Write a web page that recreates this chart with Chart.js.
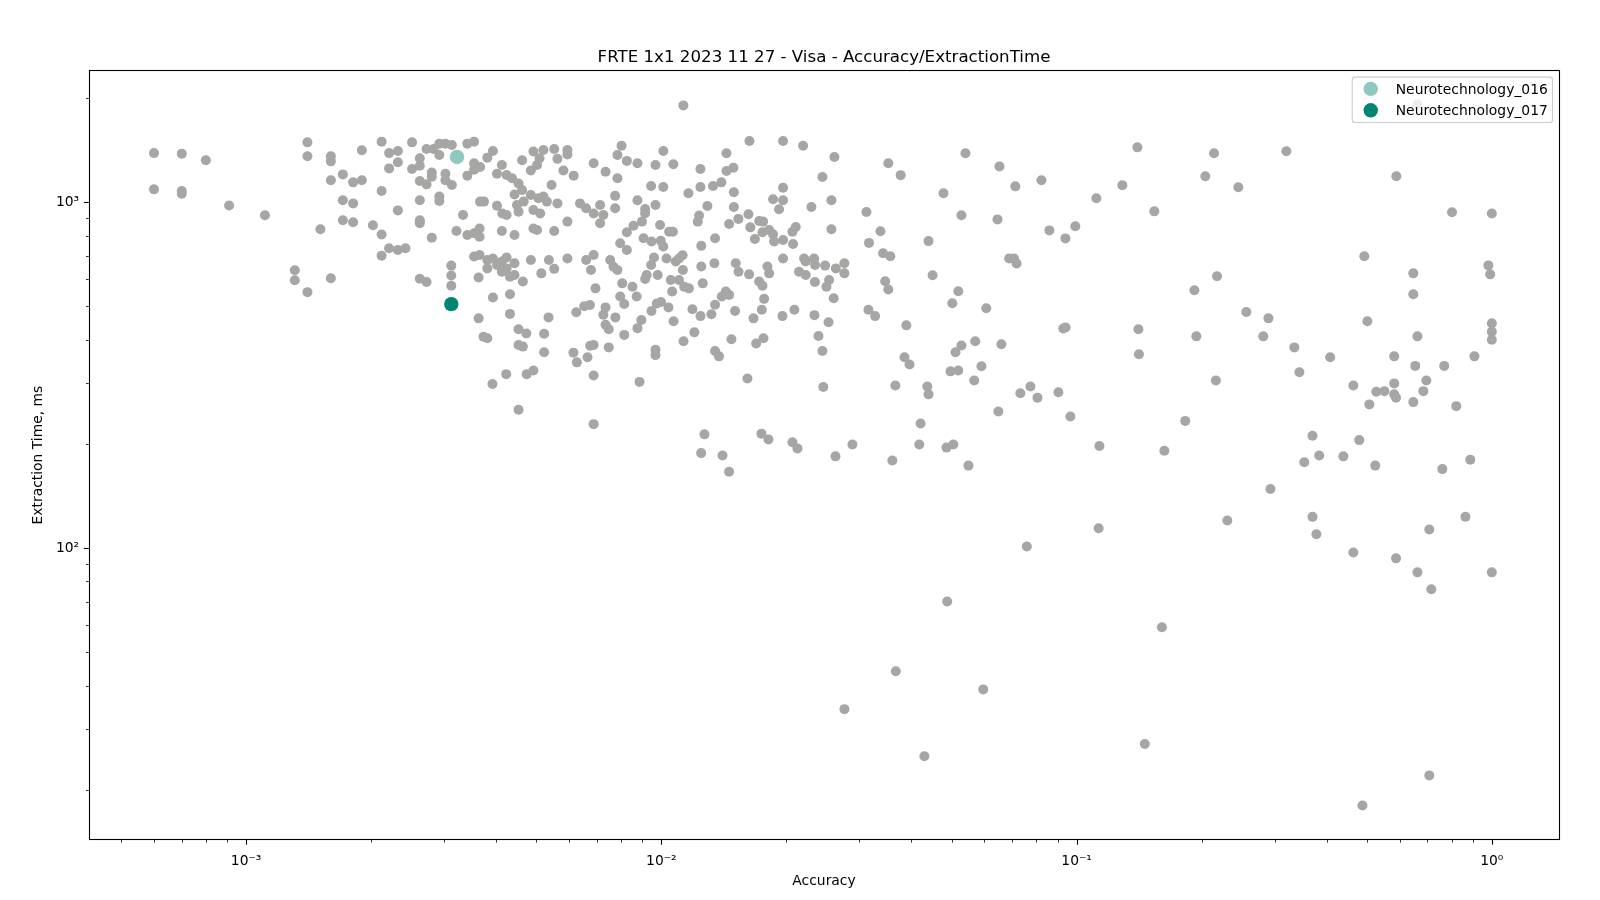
<!DOCTYPE html>
<html><head><meta charset="utf-8">
<script src="https://cdn.jsdelivr.net/npm/chart.js@4.4.0/dist/chart.umd.min.js"></script>
<style>html,body{margin:0;padding:0;background:#fff;}#wrap{width:1600px;height:900px;}</style>
</head><body><div id="wrap"><canvas id="c" width="1600" height="900"></canvas></div>
<script>
const chartTitle = 'FRTE 1x1 2023 11 27 - Visa - Accuracy/ExtractionTime';
const xAxisTitle = 'Accuracy';
const yAxisTitle = 'Extraction Time, ms';
const seriesNames = ['Neurotechnology_016', 'Neurotechnology_017'];
const seriesColors = ['#8dc9bf', '#008673'];
const nt016Accuracy = [0.00322];
const nt016Time = [1350];
const nt017Accuracy = [0.00312];
const nt017Time = [507];
const xTickValues = [0.001, 0.01, 0.1, 1];
const xTickLabels = ['10\u207B\u00B3', '10\u207B\u00B2', '10\u207B\u00B9', '10\u2070'];
const yTickValues = [100, 1000];
const yTickLabels = ['10\u00B2', '10\u00B3'];
const xRange = [4.18e-4, 1.453];
const yRange = [14.33, 2402];
// other algorithms: [accuracy, extraction time ms]
const othersPoints = [
[0.0006,1385],[0.0007,1380],[0.0008,1320],[0.0006,1088],[0.0007,1076],[0.0007,1057],[0.00091,977],[0.00111,916],[0.001405,1488],[0.001405,1356],[0.0016,1356],[0.0016,1311],[0.0019,1411],[0.00171,1202],[0.0016,1156],[0.00181,1140],[0.0019,1156],[0.00171,1012],[0.00181,991],[0.00171,886],[0.00181,874],[0.00202,857],[0.00151,834],[0.00131,635],[0.00131,594],[0.001405,549],[0.0016,602],
[0.00212,1495],[0.00251,1488],[0.00221,1385],[0.00232,1404],[0.00232,1303],[0.00221,1251],[0.00272,1423],[0.00283,1423],[0.00292,1475],[0.00302,1475],[0.00313,1462],[0.00292,1368],[0.00341,1475],[0.00354,1495],[0.00393,1404],[0.00381,1344],[0.00262,1338],[0.00251,1246],[0.00262,1274],[0.0028,1218],[0.0028,1184],[0.00302,1207],[0.00302,1156],[0.00313,1120],[0.00262,1151],[0.00272,1125],[0.00341,1192],[0.00354,1294],[0.00354,1240],[0.00366,1262],[0.00402,1207],[0.00413,1280],[0.00424,1197],[0.00437,1171],[0.00453,1132],[0.00462,1083],[0.00462,1320],[0.00492,1400],[0.00509,1338],[0.0052,1414],[0.00552,1423],[0.00594,1414],[0.00594,1373],[0.00562,1333],[0.00502,1280],[0.00485,1234],[0.00544,1120],[0.00443,1052],[0.00485,1048],[0.00466,1003],[0.00506,1025],[0.0052,1037],[0.0053,1003],[0.00562,991],[0.00449,981],[0.00492,948],[0.00511,927],[0.00453,938],[0.00402,976],[0.00414,927],[0.00424,917],[0.00366,1003],[0.00374,1003],[0.00292,1037],[0.00292,1007],[0.00262,1012],[0.00232,946],[0.00262,886],[0.00262,868],[0.00333,917],[0.00212,1076],[0.00581,1234],[0.00615,1192],[0.00687,1294],[0.00734,1224],[0.00784,1171],[0.00784,1368],[0.00802,1454],[0.00826,1315],[0.00637,991],[0.00659,959],[0.00687,927],[0.00712,981],[0.00725,917],[0.00712,868],[0.00774,1042],[0.00774,959],[0.00594,878],[0.00552,825],[0.00492,839],[0.00502,830],[0.00443,803],[0.00413,825],[0.00341,803],[0.00354,812],[0.00365,839],[0.00365,794],[0.00321,825],[0.0028,789],[0.00212,806],[0.00221,735],[0.00232,727],[0.00242,735],[0.00212,700],[0.00354,696],[0.00365,703],[0.00381,680],[0.00393,687],[0.00424,691],[0.00443,665],[0.00485,680],[0.00536,680],[0.00594,687],[0.00659,680],[0.00687,703],[0.00753,680],[0.00767,650],[0.00826,818],[0.00796,760],[0.00826,727],[0.00381,643],[0.00402,658],[0.00413,673],[0.00413,629],[0.00424,643],[0.00432,608],[0.00443,615],[0.00464,589],[0.00514,622],[0.00552,641],[0.00363,605],[0.00677,636],[0.00784,636],[0.00805,582],[0.00262,600],[0.00272,587],[0.00312,655],[0.00312,613],[0.00312,573],[0.00393,530],[0.00432,541],[0.00796,533],[0.00694,563],
[0.00363,461],[0.00432,475],[0.00535,464],[0.00373,408],[0.00381,404],[0.00453,429],[0.00473,417],[0.00522,416],[0.00453,386],[0.00464,382],[0.00522,368],[0.00423,318],[0.00474,318],[0.00492,326],[0.00392,298],[0.00453,251],[0.00624,480],[0.00652,500],[0.00673,504],[0.00734,496],[0.00725,472],[0.00775,464],[0.00814,507],[0.00734,442],[0.00747,429],[0.00814,413],[0.00614,367],[0.00626,344],[0.00664,356],[0.00674,384],[0.00687,386],[0.00747,380],[0.00687,315],[0.00687,228],
[0.00975,509],[0.00998,514],[0.00947,484],[0.0104,496],[0.00895,456],[0.00876,432],[0.0107,452],[0.01188,490],[0.01242,468],[0.0132,474],[0.01347,505],[0.01505,484],[0.01667,461],[0.01745,488],[0.01957,468],[0.02091,488],[0.02337,471],[0.02527,449],[0.03153,488],[0.03272,468],[0.01201,420],[0.01131,396],[0.00968,374],[0.00968,361],[0.01347,371],[0.01377,358],[0.01475,401],[0.01692,390],[0.01762,404],[0.0239,410],[0.02443,371],[0.00886,302],[0.01612,309],[0.02455,292],[0.0127,213],[0.01247,188],[0.01404,185],[0.01456,166],[0.01742,214],[0.01811,206],[0.02069,202],[0.02127,194],[0.02626,184],[0.02885,199],
[0.0113,1903],[0.0163,1502],[0.01964,1502],[0.02195,1454],[0.02611,1349],[0.01011,1404],[0.01435,1384],[0.00876,1295],[0.00968,1280],[0.01069,1286],[0.01242,1246],[0.01435,1229],[0.01491,1257],[0.02443,1182],[0.00945,1113],[0.01011,1105],[0.01242,1105],[0.01332,1113],[0.01395,1140],[0.01162,1060],[0.01495,1067],[0.01964,1100],[0.01964,1012],[0.01858,1019],[0.01921,953],[0.02298,967],[0.02568,1012],[0.03118,936],[0.00876,1012],[0.00968,981],[0.00914,955],[0.00914,928],[0.00898,878],[0.00857,854],[0.00993,858],[0.01044,821],[0.01066,821],[0.00906,786],[0.00947,769],[0.00997,773],[0.01011,744],[0.01248,747],[0.01347,786],[0.01291,974],[0.01233,914],[0.01224,878],[0.01456,864],[0.01533,894],[0.01621,922],[0.01495,967],[0.01638,845],[0.0172,881],[0.01758,878],[0.0168,782],[0.01752,818],[0.01818,830],[0.01858,807],[0.01869,769],[0.01964,777],[0.02076,756],[0.02069,821],[0.02107,847],[0.02568,834],[0.03163,762],[0.01964,687],[0.02207,687],[0.02227,673],[0.02333,687],[0.02345,658],[0.0248,655],[0.02632,643],[0.02759,665],[0.02759,622],[0.02146,629],[0.02227,615],[0.02343,587],[0.02535,595],[0.02498,569],[0.026,527],[0.01818,622],[0.01801,651],[0.01627,618],[0.0172,589],[0.01752,573],[0.01511,665],[0.01534,629],[0.01342,665],[0.01248,651],[0.01258,582],[0.01125,702],[0.01103,687],[0.01083,673],[0.01127,636],[0.01029,687],[0.0096,691],[0.00945,658],[0.0098,615],[0.00922,615],[0.00914,599],[0.01054,595],[0.01103,595],[0.01135,569],[0.01165,563],[0.01062,551],[0.00852,569],[0.00872,533],[0.0143,551],[0.01456,539],[0.01398,533],[0.01768,525],
[0.0352,1294],[0.0377,1196],[0.054,1384],[0.0652,1268],[0.0712,1110],[0.0823,1156],[0.0478,1060],[0.0528,916],[0.0645,891],[0.1116,1025],[0.1289,1118],[0.1401,1439],[0.1539,940],[0.2042,1187],[0.2143,1384],[0.0337,823],[0.044,771],[0.0342,711],[0.0356,697],[0.0346,590],[0.0352,559],[0.045,614],[0.0519,552],[0.0502,510],[0.0606,493],[0.0389,440],[0.0688,687],[0.0707,687],[0.0717,664],[0.086,828],[0.094,785],[0.0993,851],[0.0929,431],[0.0941,434],[0.1409,429],[0.1413,363],[0.1922,556],[0.1943,409],[0.2179,610],[0.2165,305],[0.0528,385],[0.0511,368],[0.057,396],[0.0659,388],[0.0385,356],[0.0396,339],[0.0497,324],[0.0519,326],[0.059,335],[0.0567,305],[0.0366,295],[0.0437,293],[0.044,278],[0.0732,280],[0.0774,293],[0.0805,272],[0.0904,282],[0.0648,248],[0.0966,240],[0.1827,233],[0.0421,229],[0.0418,199],[0.0486,195],[0.0505,199],[0.1135,197],[0.1627,191],[0.036,179],[0.0549,173],
[0.32,1402],[0.2452,1104],[0.589,1187],[0.802,934],[1.0,927],[0.493,697],[0.647,622],[0.647,541],[0.981,656],[0.991,618],[0.2563,481],[0.2897,461],[0.2816,409],[0.5015,452],[0.662,409],[1.0,446],[1.0,422],[1.0,400],[0.3345,380],[0.408,356],[0.582,358],[0.344,322],[0.654,336],[0.768,336],[0.908,358],[0.464,295],[0.582,299],[0.6955,305],[0.527,283],[0.551,284],[0.582,278],[0.588,272],[0.684,284],[0.647,264],[0.507,260],[0.821,257],[0.37,211],[0.4795,205],[0.3535,177],[0.384,185],[0.439,184],[0.524,173],[0.76,169],[0.8875,180],[0.293,148],[0.662,1917],
[0.2307,120],[0.37,123],[0.378,109.5],[0.464,97],[0.588,93.3],[0.662,85],[0.707,113],[0.864,123],[1.0,85],[0.715,76],[0.707,22],[0.488,18],
[0.113,114],[0.0759,101],[0.0488,70],[0.1605,59],[0.0367,44],[0.0596,39],[0.0276,34.2],[0.043,25],[0.146,27.1]
];

const FONT = "'DejaVu Sans', sans-serif";
Chart.defaults.font.family = FONT;
Chart.defaults.color = '#000';

function logTickList(min, max) {
  const out = [];
  for (let e = Math.floor(Math.log10(min)); e <= Math.ceil(Math.log10(max)); e++) {
    for (let k = 1; k <= 9; k++) {
      const v = k * Math.pow(10, e);
      if (v >= min * 0.9999 && v <= max * 1.0001) out.push({ v, major: k === 1 });
    }
  }
  return out;
}

const framePlugin = {
  id: 'frame',
  afterDatasetsDraw(chart) {
    const { ctx, chartArea: a, scales } = chart;
    ctx.save();
    ctx.strokeStyle = '#000';
    for (const t of logTickList(xRange[0], xRange[1])) {
      const px = Math.round(scales.x.getPixelForValue(t.v)) + 0.5;
      ctx.lineWidth = t.major ? 1.1 : 0.8;
      const len = t.major ? 4.9 : 2.8;
      ctx.beginPath(); ctx.moveTo(px, a.bottom); ctx.lineTo(px, a.bottom + len); ctx.stroke();
    }
    for (const t of logTickList(yRange[0], yRange[1])) {
      const py = Math.round(scales.y.getPixelForValue(t.v)) + 0.5;
      ctx.lineWidth = t.major ? 1.1 : 0.8;
      const len = t.major ? 4.9 : 2.8;
      ctx.beginPath(); ctx.moveTo(a.left - len, py); ctx.lineTo(a.left, py); ctx.stroke();
    }
    ctx.lineWidth = 1.1;
    ctx.strokeRect(Math.round(a.left) + 0.5, Math.round(a.top) + 0.5, Math.round(a.right - a.left), Math.round(a.bottom - a.top));
    ctx.restore();
  }
};

const legendPlugin = {
  id: 'innerLegend',
  afterDraw(chart) {
    const { ctx, chartArea: a } = chart;
    ctx.save();
    ctx.font = '13.89px ' + FONT;
    const tw = Math.max(...seriesNames.map(n => ctx.measureText(n).width));
    const w = 42.7 + tw + 5.5;
    const h = 45.4;
    const right = a.right - 6.7, top = a.top + 6.7, left = right - w;
    const r = 2.8;
    ctx.beginPath();
    ctx.moveTo(left + r, top);
    ctx.arcTo(right, top, right, top + h, r);
    ctx.arcTo(right, top + h, left, top + h, r);
    ctx.arcTo(left, top + h, left, top, r);
    ctx.arcTo(left, top, right, top, r);
    ctx.closePath();
    ctx.fillStyle = 'rgba(255,255,255,0.8)';
    ctx.fill();
    ctx.strokeStyle = '#cccccc';
    ctx.lineWidth = 1.1;
    ctx.stroke();
    seriesNames.forEach((name, i) => {
      const cy = top + 11.8 + i * 21.4;
      ctx.beginPath();
      ctx.arc(left + 18.5, cy, 7.2, 0, Math.PI * 2);
      ctx.fillStyle = seriesColors[i];
      ctx.fill();
      ctx.fillStyle = '#000';
      ctx.textBaseline = 'middle';
      ctx.textAlign = 'left';
      ctx.fillText(name, left + 43.5, cy + 1);
    });
    ctx.restore();
  }
};

new Chart(document.getElementById('c').getContext('2d'), {
  type: 'scatter',
  data: {
    datasets: [
      { label: seriesNames[0], data: nt016Accuracy.map((x, i) => ({ x, y: nt016Time[i] })),
        backgroundColor: seriesColors[0], borderWidth: 0, pointRadius: 7.2, order: 0 },
      { label: seriesNames[1], data: nt017Accuracy.map((x, i) => ({ x, y: nt017Time[i] })),
        backgroundColor: seriesColors[1], borderWidth: 0, pointRadius: 7.2, order: 0 },
      { label: 'Other', data: othersPoints.map(p => ({ x: p[0], y: p[1] })),
        backgroundColor: '#a6a7a5', borderWidth: 0, pointRadius: 5, order: 1 }
    ]
  },
  options: {
    responsive: false,
    animation: false,
    events: [],
    layout: { autoPadding: false, padding: { left: 0, right: 40.8, top: 0, bottom: 0 } },
    plugins: {
      legend: { display: false },
      tooltip: { enabled: false },
      title: { display: true, text: chartTitle, color: '#000', fullSize: false,
        font: { size: 16.67, weight: 'normal', family: FONT }, padding: { top: 48.1, bottom: 2.3 } }
    },
    scales: {
      x: {
        type: 'logarithmic', position: 'bottom', min: xRange[0], max: xRange[1],
        grid: { display: false, drawTicks: false }, border: { display: false },
        afterBuildTicks: s => { s.ticks = xTickValues.map(v => ({ value: v })); },
        ticks: { autoSkip: false, maxRotation: 0, padding: 12.9, color: '#000', font: { size: 13.89, family: FONT },
          callback: v => { const i = xTickValues.indexOf(v); return i >= 0 ? xTickLabels[i] : ''; } },
        title: { display: true, text: xAxisTitle, color: '#000', font: { size: 13.89, family: FONT }, padding: { top: 0, bottom: 10 } },
        afterFit: s => { s.height = 60.2; }
      },
      y: {
        type: 'logarithmic', position: 'left', min: yRange[0], max: yRange[1],
        grid: { display: false, drawTicks: false }, border: { display: false },
        afterBuildTicks: s => { s.ticks = yTickValues.map(v => ({ value: v })); },
        ticks: { autoSkip: false, padding: 9.7, color: '#000', font: { size: 13.89, family: FONT },
          callback: v => { const i = yTickValues.indexOf(v); return i >= 0 ? yTickLabels[i] : ''; } },
        title: { display: true, text: yAxisTitle, color: '#000', font: { size: 13.89, family: FONT }, padding: { top: 30, bottom: 0 } },
        afterFit: s => { s.width = 88.8; }
      }
    }
  },
  plugins: [framePlugin, legendPlugin]
});
</script></body></html>
